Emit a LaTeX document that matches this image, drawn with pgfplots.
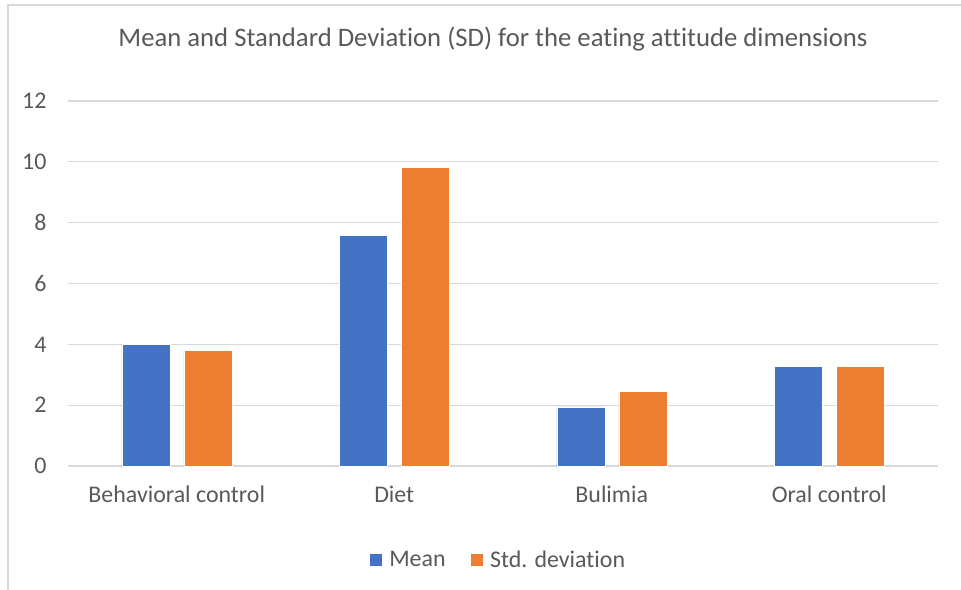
\documentclass[border=0pt]{standalone}
\usepackage{pgfplots}
\pgfplotsset{compat=1.18}
\usepackage{fontspec}
\setmainfont[Ligatures={NoCommon}]{Carlito}
\definecolor{mblue}{HTML}{4472C4}
\definecolor{morange}{HTML}{ED7D31}
\definecolor{txt}{HTML}{595959}
\definecolor{gridc}{HTML}{D9D9D9}
\begin{document}
\begin{tikzpicture}
\useasboundingbox (-68bp,-124bp) rectangle (893bp,466bp);
\draw[gridc, line width=1.5bp] (-60bp,-130bp) -- (-60bp,461bp) -- (900bp,461bp);
\begin{axis}[
  at={(0,0)}, anchor=south west,
  scale only axis, width=870bp, height=365bp,
  xmin=-0.5, xmax=3.5, ymin=0, ymax=12,
  ybar=14bp, bar width=48bp,
  xtick={0,1,2,3},
  xticklabels={Behavioral control, Diet, Bulimia, Oral control},
  ytick={0,2,4,6,8,10,12},
  ymajorgrids, grid style={gridc, line width=1.2bp},
  axis line style={draw=none},
  major tick style={draw=none},
  /pgf/number format/assume math mode=true,
  ticklabel style={font=\fontsize{24}{28}\selectfont, text=txt},
  xticklabel style={yshift=-12bp},
  yticklabel style={xshift=-18bp},
  title={Mean and Standard Deviation (SD) for the eating attitude dimensions},
  title style={at={(0.5,1)}, anchor=center, yshift=56bp, xshift=-10bp, font=\fontsize{26.8}{32}\selectfont, text=txt},
  legend style={at={(0.5,0)}, anchor=center, yshift=-94bp, xshift=-5bp, draw=none,
    font=\fontsize{24}{28}\selectfont, text=txt, legend columns=2,
    /tikz/every even column/.append style={column sep=22bp},
    /tikz/every odd column/.append style={column sep=5bp}},
  legend image code/.code={\fill[#1] (0bp,-6.5bp) rectangle (13bp,6.5bp);},
]
\addplot[fill=mblue, draw=white, line width=0.4bp] coordinates {(0,4.01) (1,7.58) (2,1.94) (3,3.28)};
\addplot[fill=morange, draw=white, line width=0.4bp] coordinates {(0,3.81) (1,9.83) (2,2.46) (3,3.27)};
\legend{Mean, Std. deviation}
\end{axis}
\end{tikzpicture}
\end{document}
